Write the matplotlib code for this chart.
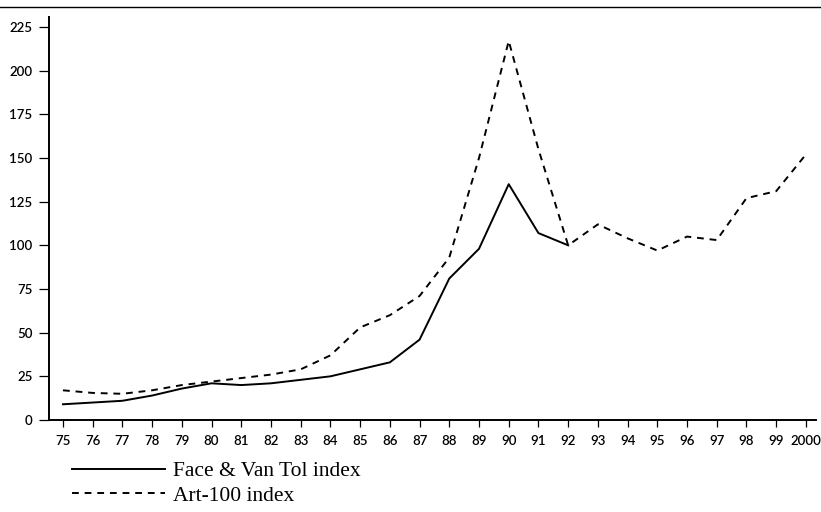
import matplotlib
matplotlib.use('Agg')
import numpy as np
from matplotlib import pyplot as plt
from matplotlib.lines import Line2D

# years shown on the x axis (as 75..100)
years_fvt = list(range(75, 93))
years_art = list(range(75, 101))
year_labels = [str(y) for y in range(75, 100)] + ['2000']

# values
face_van_tol = [9, 10, 11, 14, 18, 21, 20, 21, 23, 25, 29, 33, 46, 81, 98, 135, 107, 100]
art100 = [17, 15.5, 15, 17, 20, 22, 24, 26, 29, 37, 53, 60, 71, 93, 150, 217, 155, 100,
          112, 104, 97, 105, 103, 127, 131, 152]

fig = plt.figure(figsize=(8.21, 5.12), dpi=100)
ax = fig.add_axes([49/821, 92/512, (816-49)/821, (420-17)/512])

ax.plot(years_fvt, face_van_tol, color='black', lw=1.4, ls='-', label='Face & Van Tol index')
ax.plot(years_art, art100, color='black', lw=1.4, ls=(0, (3.5, 3)), label='Art-100 index')

ax.set_xlim(74.53, 100.34)
ax.set_ylim(0, 230.7)
ax.set_xticks(range(75, 101))
ax.set_xticklabels(year_labels)
ax.set_yticks(range(0, 226, 25))

for s in ['top', 'right']:
    ax.spines[s].set_visible(False)
for s in ['left', 'bottom']:
    ax.spines[s].set_linewidth(1.4)
ax.tick_params(axis='y', length=7, width=0.9, pad=5)
ax.tick_params(axis='x', length=5, width=0.9, pad=6)
for lab in ax.get_xticklabels() + ax.get_yticklabels():
    lab.set_fontfamily('Lato')
    lab.set_fontweight('semibold')
    lab.set_fontsize(9.5)

# rule across the top of the page
fig.add_artist(Line2D([0, 1], [1 - 7/512, 1 - 7/512], transform=fig.transFigure,
                      color='black', lw=1.0))

leg = ax.legend(loc='upper left', bbox_to_anchor=(72/821, 1 - 461/512),
                bbox_transform=fig.transFigure, frameon=False,
                prop={'family': 'Liberation Serif', 'size': 15.5},
                handlelength=4.3, handletextpad=0.37, labelspacing=0.21,
                borderaxespad=0, borderpad=0)

fig.savefig('out.png', dpi=100)
